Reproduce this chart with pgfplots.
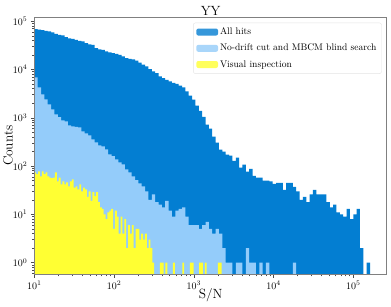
\documentclass[border=0pt]{standalone}
\usepackage{fontspec}
\usepackage{pgfplots}
\usepackage{pgfplotstable}
\pgfplotsset{compat=1.18}
\definecolor{allhits}{RGB}{3,126,210}
\definecolor{nodrift}{RGB}{148,204,250}
\definecolor{visual}{RGB}{255,255,51}

% bin edges (log bins), counts of "All hits" and "No-drift cut ..." (0.001 = empty bin)
\pgfplotstableread{
x all nd
10.00 68900 6920
11.02 67300 4290
12.14 66000 3070
13.37 63600 2420
14.74 61500 1910
16.24 58600 1500
17.89 55100 1180
19.71 52500 1030
21.72 50800 889
23.93 47100 847
26.36 44500 700
29.05 43400 667
32.00 41400 650
35.26 39500 636
38.85 38200 526
42.80 35400 478
47.16 33400 434
51.96 32600 359
57.25 27900 311
63.08 26300 269
69.50 25700 257
76.58 23700 223
84.37 22800 175
92.96 22000 160
102.4 21200 138
112.9 20200 120
124.3 18800 109
137.0 17300 86
150.9 16700 74
166.3 16300 61
183.2 15400 51
201.9 14000 44
222.4 12600 38
245.1 11600 30
270.0 10200 20
297.5 9140 26
327.8 8470 18
361.2 7200 16
397.9 6610 14
438.4 6150 19
483.1 5670 12
532.2 5330 9
586.4 5080 12
646.1 4620 13
711.9 4260 14
784.3 3520 9
864.2 2870 6
952.1 2370 6
1049 1780 6
1156 1400 5
1274 1050 6
1403 720 7
1546 594 5
1703 406 4
1877 305 5
2068 219 4
2278 199 2
2510 172 1
2766 164 1
3047 129 0.001
3357 149 1
3699 93 1
4076 107 0.001
4490 77 2
4947 88 1
5451 63 1
6006 58 0.001
6617 58 1
7291 50 0.001
8033 50 1
8851 48 0.001
9752 43 0.001
10745 45 0.001
11838 45 0.001
13043 32 0.001
14371 45 0.001
15834 45 0.001
17445 37 1
19221 30 0.001
21178 20 0.001
23334 23 0.001
25709 18 0.001
28326 26 0.001
31209 32 0.001
34386 26 0.001
37886 26 0.001
41743 26 0.001
45992 18 0.001
50673 14 0.001
55831 16 0.001
61518 11 0.001
67780 10 0.001
74679 9 0.001
82281 13 0.001
90656 8 0.001
99885 10 0.001
110050 13 0.001
121250 2 0.001
133600 0.001 0.001
147200 1 0.001
162180 1 0.001
}\maintab

% bin edges and counts of "Visual inspection"
\pgfplotstableread{
x vis
10.000 74
10.556 68
11.143 78
11.763 61
12.417 78
13.108 68
13.836 74
14.605 61
15.417 58
16.274 56
17.179 58
18.134 74
19.143 48
20.207 58
21.330 42
22.516 48
23.768 42
25.089 46
26.485 38
27.957 48
29.512 53
31.153 36
32.885 38
34.713 33
36.644 42
38.681 30
40.832 36
43.102 33
45.499 23
48.028 30
50.699 19
53.518 29
56.494 24
59.635 29
62.951 18
66.452 14
70.146 13
74.047 10
78.163 8
82.509 11
87.096 12
91.939 13
97.051 5
102.45 12
108.14 9
114.16 4
120.50 9
127.20 4
134.28 8
141.74 2
149.62 6
157.94 4
166.72 6
175.99 2
185.78 5
196.11 5
207.01 3
218.52 4
230.67 3
243.49 4
257.04 2
271.33 3
286.42 2
302.34 1
319.15 0.001
336.90 0.001
355.63 0.001
375.41 1
396.28 1
418.32 0.001
441.57 1
466.13 0.001
492.04 0.001
519.40 0.001
548.28 1
578.76 0.001
610.94 0.001
644.91 0.001
680.77 0.001
718.62 1
758.58 0.001
800.76 0.001
845.28 0.001
892.28 1
941.89 1
994.26 0.001
1049.5 0.001
1107.9 0.001
1169.5 1
1234.5 1
1303.2 0.001
1375.6 1
1452.1 0.001
1532.8 0.001
1618.0 0.001
1708.0 0.001
1803.0 0.001
1903.2 0.001
2009.1 1
2120.8 1
2238.7 1
}\vistab

\begin{document}
\begin{tikzpicture}
\begin{axis}[
  name=ax,
  scale only axis,
  width=352.5bp, height=257bp,
  xmode=log, ymode=log,
  xmin=10, xmax=2.63e5,
  ymin=0.573, ymax=1.21e5,
  log origin=infty,
  axis on top,
  tick align=outside,
  tick pos=left,
  major tick length=3.5bp,
  minor tick length=2bp,
  axis line style={draw=gray, line width=0.8bp},
  tick style={color=gray!60!black, line width=0.6bp},
  ticklabel style={font=\fontsize{9.6}{11}\selectfont},
  title={YY},
  every axis title/.style={at={(0.5,1)}, anchor=base, yshift=2bp, font=\fontsize{13.4}{15}\selectfont},
  xlabel={S/N},
  every axis x label/.style={at={(0.5,0)}, anchor=center, yshift=-21bp, font=\fontsize{13.4}{15}\selectfont},
  ylabel={Counts},
  every axis y label/.style={at={(0,0.5)}, xshift=-26.3bp, rotate=90, anchor=center, font=\fontsize{13.4}{15}\selectfont},
  legend cell align=left,
  legend style={at={(0.9855,0.979)}, anchor=north east, draw=gray!22, rounded corners=2bp,
    fill=white, fill opacity=0.8, text opacity=1, draw opacity=1,
    font=\fontsize{9.6}{11}\selectfont, inner xsep=3bp, inner ysep=3bp, row sep=4bp,
    /tikz/every even column/.append style={column sep=1bp}},
]
\addplot[ybar interval, fill=allhits, draw=none,
  legend image code/.code={\fill[allhits] (-1bp,-3.5bp) rectangle (20.7bp,3.5bp);}]
  table[x=x, y=all] {\maintab};
\addlegendentry{All hits}
\addplot[ybar interval, fill=nodrift, draw=none,
  legend image code/.code={\fill[nodrift] (-1bp,-3.5bp) rectangle (20.7bp,3.5bp);}]
  table[x=x, y=nd] {\maintab};
\addlegendentry{No-drift cut and MBCM blind search}
\addplot[ybar interval, fill=visual, draw=none,
  legend image code/.code={\fill[visual] (-1bp,-3.5bp) rectangle (20.7bp,3.5bp);}]
  table[x=x, y=vis] {\vistab};
\addlegendentry{Visual inspection}
\end{axis}
\pgfresetboundingbox
\path (ax.south west) ++(-34.3bp,-32.7bp) coordinate (bl);
\path (ax.north east) ++(4.2bp,17.3bp) coordinate (tr);
\path[use as bounding box] (bl) rectangle (tr);
\end{tikzpicture}
\end{document}
